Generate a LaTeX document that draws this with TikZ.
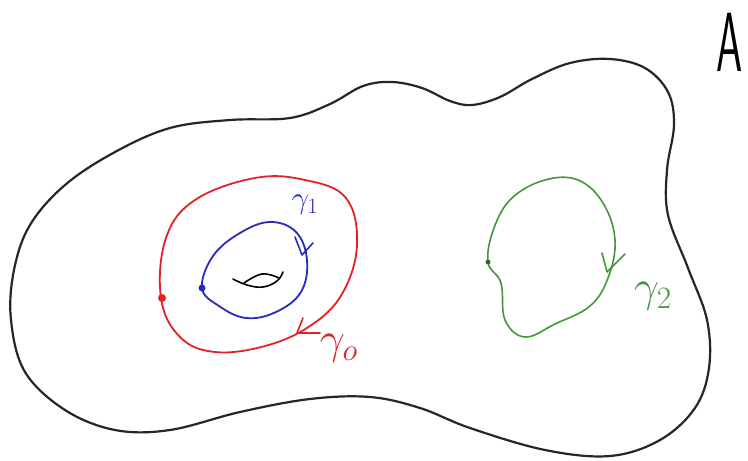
\documentclass[tikz,border=0pt]{standalone}
\usepackage{fontspec}
\begin{document}
\begin{tikzpicture}[x=1pt,y=-1pt,
  outline/.style={draw=black!85,line width=2.2pt,line join=round},
  redc/.style={draw=curvered,line width=1.8pt},
  bluec/.style={draw=curveblue,line width=1.8pt},
  greenc/.style={draw=curvegreen,line width=1.6pt},
  chev/.style={line width=1.6pt,line cap=round,line join=round},
  lbl/.style={inner sep=0pt,font=\fontsize{24}{28}\selectfont,scale=1.8}]
\definecolor{curvered}{RGB}{225,35,40}
\definecolor{curveblue}{RGB}{40,40,195}
\definecolor{curvegreen}{RGB}{70,150,60}
\useasboundingbox (0,0) rectangle (748,461);
\fill[white] (0,0) rectangle (748,461);
% outer region
\draw[outline] plot[smooth cycle,tension=0.6] coordinates {
 (290,118) (330,104) (363,86) (392,82) (422,88) (450,101) (472,105) (500,97)
 (532,79) (570,63) (610,59) (645,68) (668,92) (674,125) (667,170) (668,215)
 (688,268) (707,320) (709,368) (695,408) (660,440) (610,456) (545,450)
 (470,428) (420,408) (370,397) (310,399) (240,412) (170,430) (115,430)
 (65,410) (25,372) (11,320) (14,270) (30,225) (65,185) (115,152) (170,128)
 (230,120)};
% hole
\draw[black,line width=1.6pt,line cap=round] plot[smooth,tension=0.7] coordinates {(233,279) (247,285) (263,287) (277,281) (283,272)};
\draw[black,line width=1.6pt,line cap=round] plot[smooth,tension=0.7] coordinates {(244,283) (262,274) (279,278)};
% red loop gamma0
\draw[redc] plot[smooth cycle,tension=0.65] coordinates {
 (255,178) (195,200) (166,238) (161,298) (180,337) (215,352) (265,346)
 (310,326) (342,294) (357,245) (346,198) (305,180)};
\draw[curvered,chev] (303,318) -- (297,333) -- (320,333);
\node[circle,fill=curvered,inner sep=0pt,minimum size=8pt] (p0) at (162,298) {};
\node[lbl,text=curvered] (g0) at (339,348) {$\gamma_{o}$};
% blue loop gamma1
\draw[bluec] plot[smooth cycle,tension=0.65] coordinates {
 (202,288) (213,256) (240,233) (270,222) (296,232) (307,260) (301,292)
 (276,312) (246,318) (219,306)};
\draw[curveblue,chev] (295,237) -- (302,255) -- (313,243);
\node[circle,fill=curveblue,inner sep=0pt,minimum size=7pt] (p1) at (202,288) {};
\node[lbl,text=curveblue,scale=0.7] (g1) at (305,205) {$\gamma_{1}$};
% green loop gamma2
\draw[greenc] plot[smooth cycle,tension=0.65] coordinates {
 (488,262) (494,228) (512,198) (545,180) (578,180) (603,203) (615,240)
 (608,278) (590,306) (555,324) (525,337) (505,320) (501,283)};
\draw[curvegreen,chev] (602,253) -- (607,272) -- (625,254);
\node[circle,fill=curvegreen!70!black,inner sep=0pt,minimum size=5pt] (p2) at (488,262) {};
\node[lbl,text=curvegreen] (g2) at (653,296) {$\gamma_{2}$};
% label A
\node[inner sep=0pt,xscale=0.5,font=\sffamily\fontsize{84}{90}\selectfont] (A) at (730,42) {A};
\end{tikzpicture}
\end{document}
